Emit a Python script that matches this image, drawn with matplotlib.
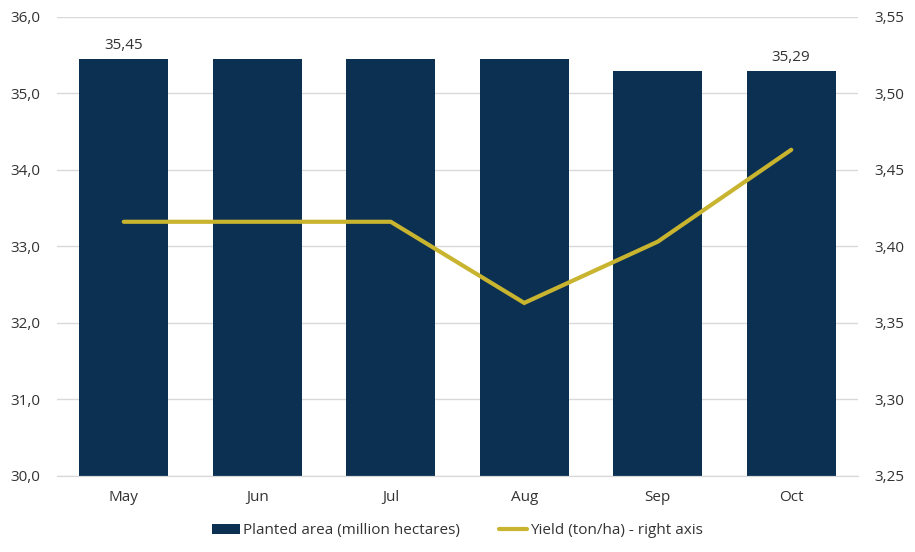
import matplotlib
matplotlib.use('Agg')
import matplotlib.pyplot as plt
from matplotlib.ticker import FuncFormatter

plt.rcParams['font.family'] = ['Open Sans', 'DejaVu Sans']

months = ['May', 'Jun', 'Jul', 'Aug', 'Sep', 'Oct']
area = [35.45, 35.45, 35.45, 35.45, 35.29, 35.29]
yield_t = [3.416, 3.416, 3.416, 3.363, 3.403, 3.463]

navy = '#0c3052'
gold = '#c8b42f'
txt = '#333333'

fig = plt.figure(figsize=(9.15, 5.52), dpi=100)
ax = fig.add_axes([0.0623, 0.1377, 0.8754, 0.8323])
ax2 = ax.twinx()

x = range(len(months))
bars = ax.bar(x, area, width=0.667, color=navy, zorder=2,
              label='Planted area (million hectares)')
ln, = ax2.plot(x, yield_t, color=gold, lw=3, solid_capstyle='round',
               solid_joinstyle='miter', label='Yield (ton/ha) - right axis')

ax.set_xlim(-0.5, len(months) - 0.5)
ax.set_ylim(30, 36)
ax2.set_ylim(3.25, 3.55)
ax.set_yticks([30, 31, 32, 33, 34, 35, 36])
ax2.set_yticks([3.25, 3.30, 3.35, 3.40, 3.45, 3.50, 3.55])
ax.yaxis.set_major_formatter(FuncFormatter(lambda v, p: f'{v:.1f}'.replace('.', ',')))
ax2.yaxis.set_major_formatter(FuncFormatter(lambda v, p: f'{v:.2f}'.replace('.', ',')))
ax.set_xticks(list(x))
ax.set_xticklabels(months)

ax.grid(axis='y', color='#d9d9d9', lw=1, zorder=0)
ax.set_axisbelow(True)
for a in (ax, ax2):
    for s in ['top', 'left', 'right']:
        a.spines[s].set_visible(False)
    a.spines['bottom'].set_color('#d9d9d9')
    a.tick_params(length=0, labelsize=11, labelcolor=txt)
ax.tick_params(axis='y', pad=12)
ax2.tick_params(axis='y', pad=12)
ax.tick_params(axis='x', pad=10)

for i in (0, len(months) - 1):
    ax.text(i, area[i] + 0.08, f'{area[i]:.2f}'.replace('.', ','),
            ha='center', va='bottom', fontsize=11, color=txt)

fig.legend(handles=[bars, ln], loc='lower center', ncol=2,
           bbox_to_anchor=(0.5, 0.0), frameon=False, fontsize=11,
           handlelength=1.8, handletextpad=0.2, columnspacing=2.6,
           labelcolor=txt)

fig.savefig('out.png', dpi=100)
